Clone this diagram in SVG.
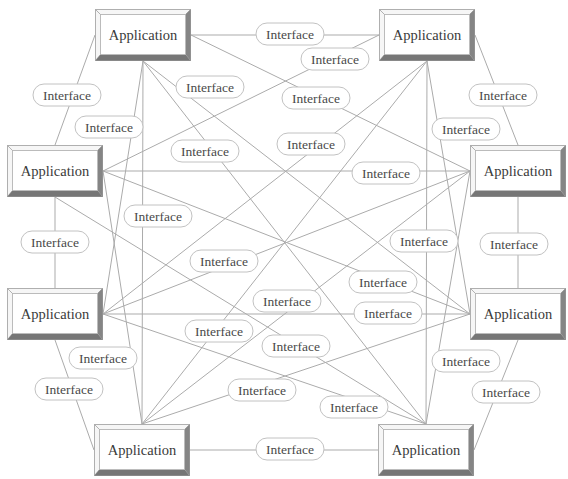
<svg xmlns="http://www.w3.org/2000/svg" xmlns:xlink="http://www.w3.org/1999/xlink" width="568" height="479" viewBox="0 0 568 479">
  <style>
    .wire { stroke: #ababab; stroke-width: 1; fill: none; }
    .pill { fill: #ffffff; stroke: #c2c2c2; stroke-width: 1; }
    .lbl { font-family: "Liberation Serif", "Times New Roman", serif; font-size: 13.5px; fill: #4a4a4a; text-anchor: middle; }
    .app { font-family: "Liberation Serif", "Times New Roman", serif; font-size: 14.5px; fill: #3a3a3a; text-anchor: middle; }
  </style>
  <defs>
    <!-- bevelled application frame, 96 x 52 -->
    <g id="frame">
      <rect x="0.5" y="0.5" width="95" height="51" fill="#ffffff" stroke="#9c9c9c"/>
      <polygon points="0.5,0.5 95.5,0.5 90.5,5.5 5.5,5.5" fill="#f6f6f6" stroke="#a8a8a8" stroke-width="0.8"/>
      <polygon points="0.5,0.5 5.5,5.5 5.5,45.5 0.5,51.5" fill="#f6f6f6" stroke="#a8a8a8" stroke-width="0.8"/>
      <polygon points="95.5,0.5 95.5,51.5 90.5,45.5 90.5,5.5" fill="#858585"/>
      <polygon points="0.5,51.5 95.5,51.5 90.5,45.5 5.5,45.5" fill="#767676"/>
      <rect x="5.5" y="5.5" width="85" height="40" fill="#ffffff" stroke="#b4b4b4" stroke-width="0.8"/>
    </g>
    <rect id="pillshape" x="-34" y="-11" width="68" height="22" rx="11" ry="11" class="pill"/>
  </defs>

  <!-- connectors between the applications -->
  <g id="connectors" class="wire">
    <line x1="191" y1="35" x2="379" y2="35"/>
    <line x1="95" y1="35" x2="55" y2="145"/>
    <line x1="475" y1="35" x2="518" y2="145"/>
    <line x1="55" y1="197" x2="55" y2="288"/>
    <line x1="518" y1="197" x2="518" y2="288"/>
    <line x1="55" y1="340" x2="94" y2="450"/>
    <line x1="518" y1="340" x2="474" y2="450"/>
    <line x1="190" y1="450" x2="378" y2="450"/>

    <line x1="191" y1="35" x2="470" y2="171"/>
    <line x1="143" y1="61" x2="103" y2="314"/>
    <line x1="143" y1="61" x2="470" y2="314"/>
    <line x1="143" y1="61" x2="142" y2="424"/>
    <line x1="143" y1="61" x2="426" y2="424"/>
    <line x1="379" y1="35" x2="103" y2="171"/>
    <line x1="427" y1="61" x2="103" y2="314"/>
    <line x1="427" y1="61" x2="470" y2="314"/>
    <line x1="427" y1="61" x2="142" y2="424"/>
    <line x1="427" y1="61" x2="426" y2="424"/>
    <line x1="103" y1="171" x2="470" y2="171"/>
    <line x1="103" y1="171" x2="470" y2="314"/>
    <line x1="103" y1="171" x2="142" y2="424"/>
    <line x1="55" y1="197" x2="426" y2="424"/>
    <line x1="470" y1="171" x2="103" y2="314"/>
    <line x1="470" y1="171" x2="142" y2="424"/>
    <line x1="470" y1="171" x2="426" y2="424"/>
    <line x1="103" y1="314" x2="470" y2="314"/>
    <line x1="103" y1="314" x2="426" y2="424"/>
    <line x1="470" y1="314" x2="142" y2="424"/>
  </g>

  <!-- interface labels -->
  <g id="if01" transform="translate(290,34)"><use xlink:href="#pillshape"/><text class="lbl" y="4.5">Interface</text></g>
  <g id="if02" transform="translate(335,59)"><use xlink:href="#pillshape"/><text class="lbl" y="4.5">Interface</text></g>
  <g id="if03" transform="translate(67,95)"><use xlink:href="#pillshape"/><text class="lbl" y="4.5">Interface</text></g>
  <g id="if04" transform="translate(210,87)"><use xlink:href="#pillshape"/><text class="lbl" y="4.5">Interface</text></g>
  <g id="if05" transform="translate(316,98)"><use xlink:href="#pillshape"/><text class="lbl" y="4.5">Interface</text></g>
  <g id="if06" transform="translate(503,95)"><use xlink:href="#pillshape"/><text class="lbl" y="4.5">Interface</text></g>
  <g id="if07" transform="translate(109,127)"><use xlink:href="#pillshape"/><text class="lbl" y="4.5">Interface</text></g>
  <g id="if08" transform="translate(466,129)"><use xlink:href="#pillshape"/><text class="lbl" y="4.5">Interface</text></g>
  <g id="if09" transform="translate(205,151)"><use xlink:href="#pillshape"/><text class="lbl" y="4.5">Interface</text></g>
  <g id="if10" transform="translate(311,144)"><use xlink:href="#pillshape"/><text class="lbl" y="4.5">Interface</text></g>
  <g id="if11" transform="translate(386,173)"><use xlink:href="#pillshape"/><text class="lbl" y="4.5">Interface</text></g>
  <g id="if12" transform="translate(55,242)"><use xlink:href="#pillshape"/><text class="lbl" y="4.5">Interface</text></g>
  <g id="if13" transform="translate(158,216)"><use xlink:href="#pillshape"/><text class="lbl" y="4.5">Interface</text></g>
  <g id="if14" transform="translate(424,241)"><use xlink:href="#pillshape"/><text class="lbl" y="4.5">Interface</text></g>
  <g id="if15" transform="translate(514,244)"><use xlink:href="#pillshape"/><text class="lbl" y="4.5">Interface</text></g>
  <g id="if16" transform="translate(224,261)"><use xlink:href="#pillshape"/><text class="lbl" y="4.5">Interface</text></g>
  <g id="if17" transform="translate(383,282)"><use xlink:href="#pillshape"/><text class="lbl" y="4.5">Interface</text></g>
  <g id="if18" transform="translate(287,301)"><use xlink:href="#pillshape"/><text class="lbl" y="4.5">Interface</text></g>
  <g id="if19" transform="translate(388,313)"><use xlink:href="#pillshape"/><text class="lbl" y="4.5">Interface</text></g>
  <g id="if20" transform="translate(219,331)"><use xlink:href="#pillshape"/><text class="lbl" y="4.5">Interface</text></g>
  <g id="if21" transform="translate(296,346)"><use xlink:href="#pillshape"/><text class="lbl" y="4.5">Interface</text></g>
  <g id="if22" transform="translate(103,358)"><use xlink:href="#pillshape"/><text class="lbl" y="4.5">Interface</text></g>
  <g id="if23" transform="translate(466,361)"><use xlink:href="#pillshape"/><text class="lbl" y="4.5">Interface</text></g>
  <g id="if24" transform="translate(69,389)"><use xlink:href="#pillshape"/><text class="lbl" y="4.5">Interface</text></g>
  <g id="if25" transform="translate(506,392)"><use xlink:href="#pillshape"/><text class="lbl" y="4.5">Interface</text></g>
  <g id="if26" transform="translate(262,390)"><use xlink:href="#pillshape"/><text class="lbl" y="4.5">Interface</text></g>
  <g id="if27" transform="translate(354,407)"><use xlink:href="#pillshape"/><text class="lbl" y="4.5">Interface</text></g>
  <g id="if28" transform="translate(290,449)"><use xlink:href="#pillshape"/><text class="lbl" y="4.5">Interface</text></g>

  <!-- applications -->
  <g id="app1" transform="translate(95,9)"><use xlink:href="#frame"/><text class="app" x="48" y="30.5">Application</text></g>
  <g id="app2" transform="translate(379,9)"><use xlink:href="#frame"/><text class="app" x="48" y="30.5">Application</text></g>
  <g id="app3" transform="translate(7,145)"><use xlink:href="#frame"/><text class="app" x="48" y="30.5">Application</text></g>
  <g id="app4" transform="translate(470,145)"><use xlink:href="#frame"/><text class="app" x="48" y="30.5">Application</text></g>
  <g id="app5" transform="translate(7,288)"><use xlink:href="#frame"/><text class="app" x="48" y="30.5">Application</text></g>
  <g id="app6" transform="translate(470,288)"><use xlink:href="#frame"/><text class="app" x="48" y="30.5">Application</text></g>
  <g id="app7" transform="translate(94,424)"><use xlink:href="#frame"/><text class="app" x="48" y="30.5">Application</text></g>
  <g id="app8" transform="translate(378,424)"><use xlink:href="#frame"/><text class="app" x="48" y="30.5">Application</text></g>
</svg>
